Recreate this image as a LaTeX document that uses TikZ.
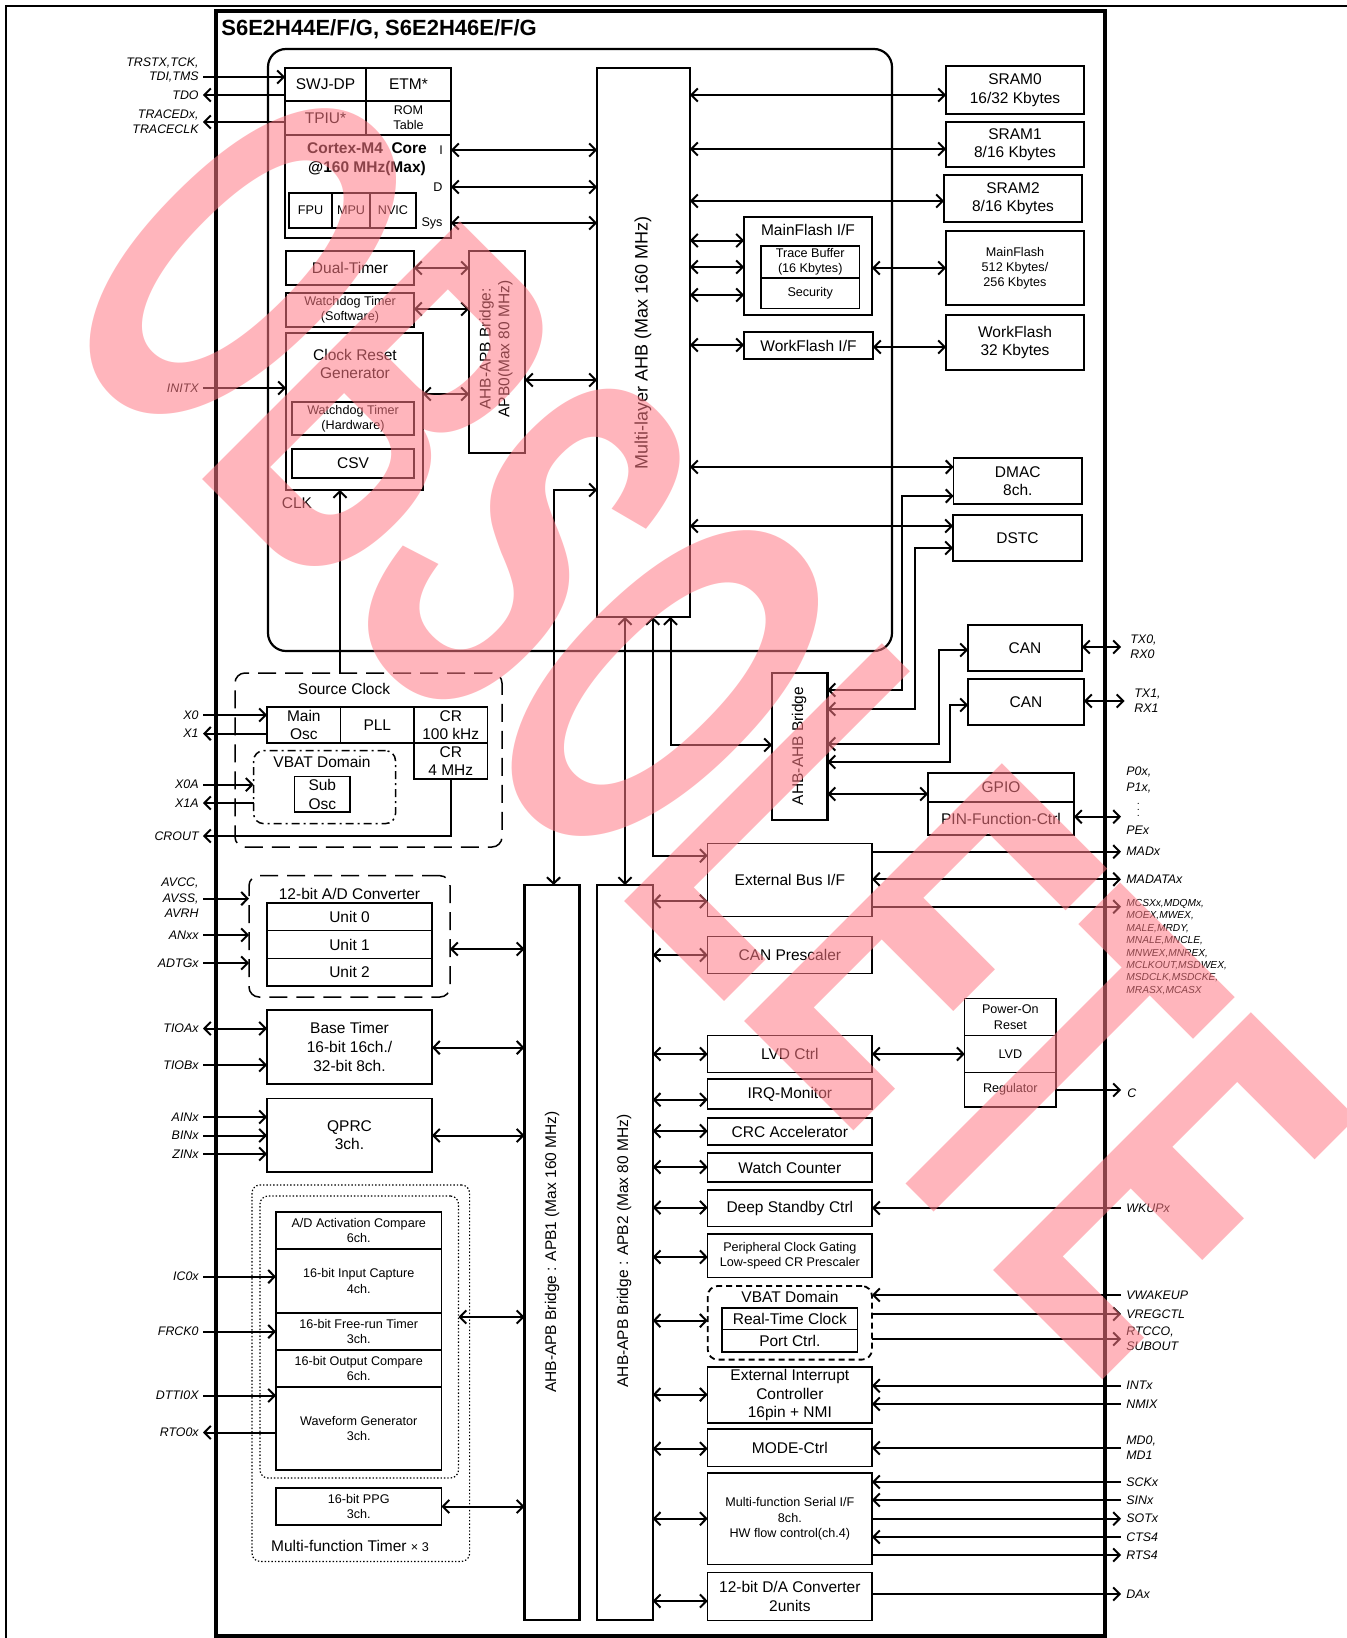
\documentclass[tikz,border=0pt]{standalone}
\usepackage{fontspec}
\usepackage{graphicx}
\setmainfont{Liberation Sans}
\usetikzlibrary{arrows.meta,calc}
\definecolor{wm}{RGB}{255,122,133}
\newcommand\fM{\fontsize{7.75pt}{9.3pt}\selectfont}
\newcommand\fS{\fontsize{6.3pt}{7.6pt}\selectfont}
\newcommand\fL{\fontsize{9pt}{11pt}\selectfont}
\newcommand\fP{\fontsize{6.2pt}{7.5pt}\selectfont\itshape}
\newcommand\fT{\fontsize{5.1pt}{6.2pt}\selectfont\itshape}
\newcommand\fW{\fontsize{265pt}{265pt}\selectfont\bfseries}
% box: [opt]{name}{x1}{y1}{x2}{y2}{text}
\newcommand\bx[7][]{\node[bxs,minimum width={(#5-#3)*0.5pt},minimum height={(#6-#4)*0.5pt},#1] (#2) at ({(#3+#5)/2},{(#4+#6)/2}) {#7};}
% left pin: name, y, arrow, target anchor, label
\newcommand\lpin[5]{\coordinate (#1) at (203,#2);\draw[ar,#3] (#1) -- (#4 |- #1);\node[pinl] (#1l) at (199,#2) {#5};}
% right pin: name, y, arrow, source anchor, label
\newcommand\rpin[5]{\coordinate (#1) at (1121,#2);\draw[ar,#3] (#4 |- #1) -- (#1);\node[pinr] (#1l) at (1126,#2) {#5};}
\begin{document}
\begin{tikzpicture}[x=0.5pt,y=-0.5pt,
  >={Straight Barb[length=3.2pt,width=6.6pt]},
  bxs/.style={draw,line width=0.6pt,inner sep=0pt,outer sep=0pt,font=\fM,align=center},
  bbold/.style={line width=1.1pt},
  ar/.style={line width=1pt},
  lbl/.style={font=\fM,inner sep=0pt,align=center},
  pinl/.style={font=\fP,inner sep=0pt,anchor=east,align=right},
  pinr/.style={font=\fP,inner sep=0pt,anchor=west,align=left},
  lngdash/.style={dash pattern=on 9pt off 4.5pt,line width=0.75pt,rounded corners=5pt},
  dashdot/.style={dash pattern=on 4pt off 2pt on 1pt off 2pt,line width=0.75pt,rounded corners=5pt},
  shdash/.style={dash pattern=on 3pt off 2pt,line width=0.9pt,rounded corners=5pt},
  dotbox/.style={dash pattern=on 0.7pt off 1pt,line width=0.6pt,rounded corners=4pt},
]
\useasboundingbox (0,0) rectangle (1346,1638);
\fill[white] (0,0) rectangle (1346,1638);
% outer frame
\draw[line width=1.3pt] (6,1640) -- (6,6) -- (1350,6);
% chip
\bx[line width=1.6pt]{chip}{216}{11}{1105}{1636}{}
\node[font=\bfseries\fontsize{11pt}{13pt}\selectfont,inner sep=0pt,anchor=west] (title) at (221,29) {S6E2H44E/F/G, S6E2H46E/F/G};
% core area
\bx[line width=1.1pt,rounded corners=9pt]{core}{268}{49}{892}{651}{}
\bx{swj}{285}{68}{366}{101}{SWJ-DP}
\bx{etm}{366}{68}{451}{101}{ETM*}
\bx{tpiu}{285}{101}{366}{135}{TPIU*}
\bx[font=\fS]{rom}{366}{101}{451}{135}{ROM\\Table}
\bx{cm4}{285}{135}{451}{238}{}
\node[lbl,font=\bfseries\fM] (cm4t) at (367,159) {Cortex-M4\ \ Core\\@160 MHz(Max)};
\node[lbl,font=\fS] (li) at (441,150) {I};
\node[lbl,font=\fS] (ld) at (438,187) {D};
\node[lbl,font=\fS] (lsys) at (432,223) {Sys};
\bx[font=\fS]{fpu}{289}{193}{332}{228}{FPU}
\bx[font=\fS]{mpu}{332}{193}{370}{228}{MPU}
\bx[font=\fS]{nvic}{370}{193}{416}{228}{NVIC}
\bx{dual}{286}{251}{414}{285}{Dual-Timer}
\bx[font=\fS]{wdts}{286}{293}{414}{327}{Watchdog Timer\\(Software)}
\bx{crg}{286}{333}{423}{490}{}
\node[lbl] (crgt) at (355,364) {Clock Reset\\Generator};
\bx[font=\fS]{wdth}{292}{402}{414}{435}{Watchdog Timer\\(Hardware)}
\bx{csv}{292}{449}{414}{478}{CSV}
\node[lbl] (clk) at (297,503) {CLK};
\bx[bbold]{apb0}{469}{251}{525}{453}{}
\node[lbl,rotate=90,font=\fM] (apb0t) at (496,349) {AHB-APB Bridge:\\APB0(Max 80 MHz)};
\bx[bbold]{ahb}{597}{68}{690}{617}{}
\node[lbl,rotate=90,font=\fL] (ahbt) at (643,343) {Multi-layer AHB (Max 160 MHz)};
% memories
\bx{sram0}{946}{66}{1084}{114}{SRAM0\\16/32 Kbytes}
\bx{sram1}{946}{122}{1084}{167}{SRAM1\\8/16 Kbytes}
\bx{sram2}{944}{175}{1082}{222}{SRAM2\\8/16 Kbytes}
\bx{mfif}{744}{217}{872}{315}{}
\node[lbl] (mfift) at (808,230) {MainFlash I/F};
\bx[font=\fS]{trace}{761}{246}{859.5}{278}{Trace Buffer\\(16 Kbytes)}
\bx[font=\fS]{sec}{761}{278}{859.5}{308.5}{Security}
\bx[font=\fS]{mflash}{946}{231}{1084}{305}{MainFlash\\512 Kbytes/\\256 Kbytes}
\bx{wfif}{744}{332}{873}{359}{WorkFlash I/F}
\bx{wflash}{946}{315}{1084}{370}{WorkFlash\\32 Kbytes}
\bx{dmac}{953.6}{458}{1082}{504}{DMAC\\8ch.}
\bx{dstc}{953}{515}{1082}{561}{DSTC}
\bx[bbold]{ahbb}{772}{673}{827.5}{820}{}
\node[lbl,rotate=90] (ahbbt) at (799,746) {AHB-AHB Bridge};
\bx{can0}{968}{625}{1082}{671}{CAN}
\bx{can1}{968}{679}{1084}{725}{CAN}
\bx{gpio}{928}{773}{1074}{802}{GPIO}
\bx{pfc}{928}{802}{1074}{835}{PIN-Function-Ctrl}
% right column peripherals
\bx{ebus}{707.7}{843.6}{872}{916.4}{External Bus I/F}
\bx{canp}{707.7}{936.5}{872}{973.5}{CAN Prescaler}
\bx{lvdc}{707.7}{1035.8}{872}{1072.4}{LVD Ctrl}
\bx{irq}{707.7}{1079}{872}{1109}{IRQ-Monitor}
\bx{crc}{707.7}{1118}{872}{1145}{CRC Accelerator}
\bx{wc}{707.7}{1153}{872}{1182}{Watch Counter}
\bx{dsc}{707.7}{1190}{872}{1226.6}{Deep Standby Ctrl}
\bx[font=\fS]{pcg}{707.7}{1234}{872}{1277.5}{Peripheral Clock Gating\\Low-speed CR Prescaler}
\bx[shdash]{vbat2}{707.7}{1286}{872}{1359.6}{}
\node[lbl] (vbat2t) at (790,1297) {VBAT Domain};
\bx{rtc}{722}{1308}{857.7}{1329.5}{Real-Time Clock}
\bx{portc}{722}{1329.5}{857.7}{1352}{Port Ctrl.}
\bx{eic}{707.7}{1367}{872}{1423}{External Interrupt\\Controller\\16pin + NMI}
\bx{mode}{707.7}{1429}{872}{1466.6}{MODE-Ctrl}
\bx[font=\fS]{mfs}{707.7}{1473}{872}{1564.7}{Multi-function Serial I/F\\8ch.\\HW flow control(ch.4)}
\bx{dac}{707.7}{1572.8}{872}{1620.4}{12-bit D/A Converter\\2units}
\bx[font=\fS]{por}{964.7}{998.7}{1056}{1035.4}{Power-On\\Reset}
\bx[font=\fS]{lvd}{964.7}{1035.4}{1056}{1072.4}{LVD}
\bx[font=\fS]{reg}{964.7}{1072.4}{1056}{1107}{Regulator}
% APB bridges
\bx[bbold]{apb1}{524.5}{885}{579.5}{1620}{}
\node[lbl,rotate=90] (apb1t) at (552,1252) {AHB-APB Bridge : APB1 (Max 160 MHz)};
\bx[bbold]{apb2}{597}{885}{652.7}{1620}{}
\node[lbl,rotate=90] (apb2t) at (624,1251) {AHB-APB Bridge : APB2 (Max 80 MHz)};
% left column
\bx[lngdash]{srcclk}{235}{673}{502}{847}{}
\node[lbl] (srcclkt) at (344,689) {Source Clock};
\bx{mosc}{267}{707}{340.6}{743}{Main\\Osc}
\bx{pll}{340.6}{707}{414}{743}{PLL}
\bx{cr100}{414}{707}{487.5}{743}{CR\\100 kHz}
\bx{cr4}{414}{743}{487.5}{779}{CR\\4 MHz}
\bx[dashdot]{vbat1}{253.6}{750.7}{395.5}{823.6}{}
\node[lbl] (vbat1t) at (322,762) {VBAT Domain};
\bx{subosc}{294.6}{776.4}{350}{812}{Sub\\Osc}
\bx[lngdash]{adc}{249}{875.7}{450}{997}{}
\node[lbl] (adct) at (349.5,894) {12-bit A/D Converter};
\bx{u0}{267}{903}{432}{930.7}{Unit 0}
\bx{u1}{267}{930.7}{432}{958.6}{Unit 1}
\bx{u2}{267}{958.6}{432}{986}{Unit 2}
\bx{bt}{267}{1010}{432}{1084}{Base Timer\\16-bit 16ch./\\32-bit 8ch.}
\bx{qprc}{267}{1098.5}{432}{1172}{QPRC\\3ch.}
\bx[dotbox]{mft}{252}{1185}{469.6}{1561.4}{}
\bx[dotbox]{mfti}{260}{1196}{458.5}{1478}{}
\bx[font=\fS]{adcmp}{276}{1212}{441.5}{1249}{A/D Activation Compare\\6ch.}
\bx[font=\fS]{icu}{276}{1249}{441.5}{1313}{16-bit Input Capture\\4ch.}
\bx[font=\fS]{frt}{276}{1313}{441.5}{1350}{16-bit Free-run Timer\\3ch.}
\bx[font=\fS]{ocu}{276}{1350}{441.5}{1387}{16-bit Output Compare\\6ch.}
\bx[font=\fS]{wfg}{276}{1387}{441.5}{1470}{Waveform Generator\\3ch.}
\bx[font=\fS]{ppg}{276}{1488}{441.5}{1525}{16-bit PPG\\3ch.}
\node[lbl] (mftt) at (350,1546) {Multi-function Timer {\fS × 3}};
% ---- connectors: core
\draw[ar,<->] (cm4.east |- 0,150) -- (ahb.west |- 0,150);
\draw[ar,<->] (cm4.east |- 0,187) -- (ahb.west |- 0,187);
\draw[ar,<->] (cm4.east |- 0,223) -- (ahb.west |- 0,223);
\draw[ar,<->] (dual.east |- 0,268) -- (apb0.west |- 0,268);
\draw[ar,<->] (wdts.east |- 0,309) -- (apb0.west |- 0,309);
\draw[ar,<->] (crg.east |- 0,394) -- (apb0.west |- 0,394);
\draw[ar,<->] (apb0.east |- 0,380) -- (ahb.west |- 0,380);
\draw[ar,->] (srcclk.north -| 340,0) -- (crg.south -| 340,0);
% AHB to memories
\draw[ar,<->] (ahb.east |- 0,95) -- (sram0.west |- 0,95);
\draw[ar,<->] (ahb.east |- 0,149) -- (sram1.west |- 0,149);
\draw[ar,<->] (ahb.east |- 0,201) -- (sram2.west |- 0,201);
\draw[ar,<->] (ahb.east |- 0,240.5) -- (mfif.west |- 0,240.5);
\draw[ar,<->] (ahb.east |- 0,267) -- (mfif.west |- 0,267);
\draw[ar,<->] (ahb.east |- 0,295) -- (mfif.west |- 0,295);
\draw[ar,<->] (mfif.east |- 0,268) -- (mflash.west |- 0,268);
\draw[ar,<->] (ahb.east |- 0,345) -- (wfif.west |- 0,345);
\draw[ar,<->] (wfif.east |- 0,347) -- (wflash.west |- 0,347);
\draw[ar,<->] (ahb.east |- 0,467) -- (dmac.west |- 0,467);
\draw[ar,<->] (ahb.east |- 0,526) -- (dstc.west |- 0,526);
% AHB-AHB bridge
\draw[ar,<->] (ahbb.east |- 0,690) -| (902,496) -- (dmac.west |- 0,496);
\draw[ar,<->] (ahbb.east |- 0,709) -| (915,548) -- (dstc.west |- 0,548);
\draw[ar,<->] (ahbb.east |- 0,744) -| (938.5,650) -- (can0.west |- 0,650);
\draw[ar,<->] (ahbb.east |- 0,762) -| (949.7,705) -- (can1.west |- 0,705);
\draw[ar,<->] (ahbb.east |- 0,794) -- (gpio.west |- 0,794);
% AHB down
\draw[ar,<->] (ahb.west |- 0,490) -| (apb1.north -| 553.6,0);
\draw[ar,<->] (ahb.south -| 625,0) -- (apb2.north -| 625,0);
\draw[ar,<->] (ahb.south -| 652.7,0) |- (ebus.west |- 0,855.7);
\draw[ar,<->] (ahb.south -| 670.5,0) |- (ahbb.west |- 0,745);
% APB2 to peripherals
\draw[ar,<->] (apb2.east |- 0,901.4) -- (ebus.west |- 0,901.4);
\draw[ar,<->] (apb2.east |- 0,955) -- (canp.west |- 0,955);
\draw[ar,<->] (apb2.east |- 0,1054) -- (lvdc.west |- 0,1054);
\draw[ar,<->] (apb2.east |- 0,1099.7) -- (irq.west |- 0,1099.7);
\draw[ar,<->] (apb2.east |- 0,1131) -- (crc.west |- 0,1131);
\draw[ar,<->] (apb2.east |- 0,1167) -- (wc.west |- 0,1167);
\draw[ar,<->] (apb2.east |- 0,1207.5) -- (dsc.west |- 0,1207.5);
\draw[ar,<->] (apb2.east |- 0,1257) -- (pcg.west |- 0,1257);
\draw[ar,<->] (apb2.east |- 0,1320.6) -- (vbat2.west |- 0,1320.6);
\draw[ar,<->] (apb2.east |- 0,1394.6) -- (eic.west |- 0,1394.6);
\draw[ar,<->] (apb2.east |- 0,1448.7) -- (mode.west |- 0,1448.7);
\draw[ar,<->] (apb2.east |- 0,1518.7) -- (mfs.west |- 0,1518.7);
\draw[ar,<->] (apb2.east |- 0,1601) -- (dac.west |- 0,1601);
\draw[ar,<->] (lvdc.east |- 0,1054) -- (lvd.west |- 0,1054);
% APB1 to peripherals
\draw[ar,<->] (adc.east |- 0,949) -- (apb1.west |- 0,949);
\draw[ar,<->] (bt.east |- 0,1047.6) -- (apb1.west |- 0,1047.6);
\draw[ar,<->] (qprc.east |- 0,1135.5) -- (apb1.west |- 0,1135.5);
\draw[ar,<->] (mfti.east |- 0,1317) -- (apb1.west |- 0,1317);
\draw[ar,<->] (ppg.east |- 0,1506.5) -- (apb1.west |- 0,1506.5);
% ---- left pins
\lpin{trst}{77}{->}{swj.west}{TDI,TMS}
\node[pinl] (trst2) at (199,63) {TRSTX,TCK,};
\lpin{tdo}{95}{<-}{swj.west}{TDO}
\lpin{tracep}{122}{<-}{tpiu.west}{}
\node[pinl] (trace1) at (199,115) {TRACEDx,};
\node[pinl] (trace2) at (199,129) {TRACECLK};
\lpin{initx}{388}{->}{crg.west}{INITX}
\lpin{xo}{715}{->}{mosc.west}{X0}
\lpin{xi}{733.6}{<-}{mosc.west}{X1}
\lpin{xoa}{784.6}{->}{vbat1.west}{X0A}
\lpin{xia}{803}{<-}{vbat1.west}{X1A}
\coordinate (crout) at (203,836);
\draw[ar,<-] (crout) -| (cr4.south);
\node[pinl] (croutl) at (199,836) {CROUT};
\lpin{avss}{898.6}{->}{adc.west}{AVSS,}
\node[pinl] (avcc) at (199,883) {AVCC,};
\node[pinl] (avrh) at (199,913) {AVRH};
\lpin{anxx}{935}{->}{adc.west}{ANxx}
\lpin{adtg}{963}{->}{adc.west}{ADTGx}
\lpin{tioa}{1028.5}{<->}{bt.west}{TIOAx}
\lpin{tiob}{1065}{->}{bt.west}{TIOBx}
\lpin{ain}{1117}{->}{qprc.west}{AINx}
\lpin{bin}{1135.5}{->}{qprc.west}{BINx}
\lpin{zin}{1154}{->}{qprc.west}{ZINx}
\lpin{icx}{1276.6}{->}{icu.west}{IC0x}
\lpin{frck}{1331.6}{->}{frt.west}{FRCK0}
\lpin{dtti}{1395.5}{->}{wfg.west}{DTTI0X}
\lpin{rto}{1432.5}{<-}{wfg.west}{RTO0x}
% ---- right pins
\coordinate (txa) at (1121,647);
\draw[ar,<->] (can0.east |- txa) -- (txa);
\node[pinr] (txal) at (1130,647) {TX0,\\RX0};
\coordinate (txb) at (1124.5,701);
\draw[ar,<->] (can1.east |- txb) -- (txb);
\node[pinr] (txbl) at (1134,701) {TX1,\\RX1};
\rpin{pex}{816.7}{<->}{pfc.east}{}
\node[pinr] (p0x) at (1126,772) {P0x,};
\node[pinr] (p1x) at (1126,788) {P1x,};
\node[pinr,font=\fT] (pdots) at (1137,810) {.\\[-3.2pt].\\[-3.2pt].};
\node[pinr] (pex2) at (1126,830) {PEx};
\rpin{madx}{851.7}{->}{ebus.east}{MADx}
\rpin{madata}{879.3}{<->}{ebus.east}{MADATAx}
\rpin{mcsx}{906.7}{->}{ebus.east}{}
\node[pinr,font=\fT,anchor=north west] (mcsxl) at (1126,899) {MCSXx,MDQMx,\\MOEX,MWEX,\\MALE,MRDY,\\MNALE,MNCLE,\\MNWEX,MNREX,\\MCLKOUT,MSDWEX,\\MSDCLK,MSDCKE,\\MRASX,MCASX};
\rpin{cpin}{1090}{->}{reg.east}{}
\node[pinr] (cpinl) at (1127,1093.6) {C};
\rpin{wkup}{1208}{<-}{dsc.east}{WKUPx}
\rpin{vwake}{1295}{<-}{vbat2.east}{VWAKEUP}
\rpin{vreg}{1314}{->}{vbat2.east}{VREGCTL}
\rpin{rtcco}{1339}{->}{vbat2.east}{}
\node[pinr] (rtccol) at (1126,1339) {RTCCO,\\SUBOUT};
\rpin{intx}{1385.7}{<-}{eic.east}{INTx}
\rpin{nmix}{1404}{<-}{eic.east}{NMIX}
\rpin{mdp}{1448}{<-}{mode.east}{}
\node[pinr] (mdl) at (1126,1448) {MD0,\\MD1};
\rpin{sck}{1482}{<-}{mfs.east}{SCKx}
\rpin{sin}{1500}{<-}{mfs.east}{SINx}
\rpin{sot}{1518.7}{->}{mfs.east}{SOTx}
\rpin{cts}{1537}{<-}{mfs.east}{CTS4}
\rpin{rts}{1555}{->}{mfs.east}{RTS4}
\rpin{dax}{1594}{->}{dac.east}{DAx}
% ---- watermark
\node[rotate=-45,text=wm,opacity=0.55,text opacity=0.55,inner sep=0pt] (wmark) at (703,722) {\scalebox{0.52}[1]{\fW OBSOLETE}};
\end{tikzpicture}
\end{document}
